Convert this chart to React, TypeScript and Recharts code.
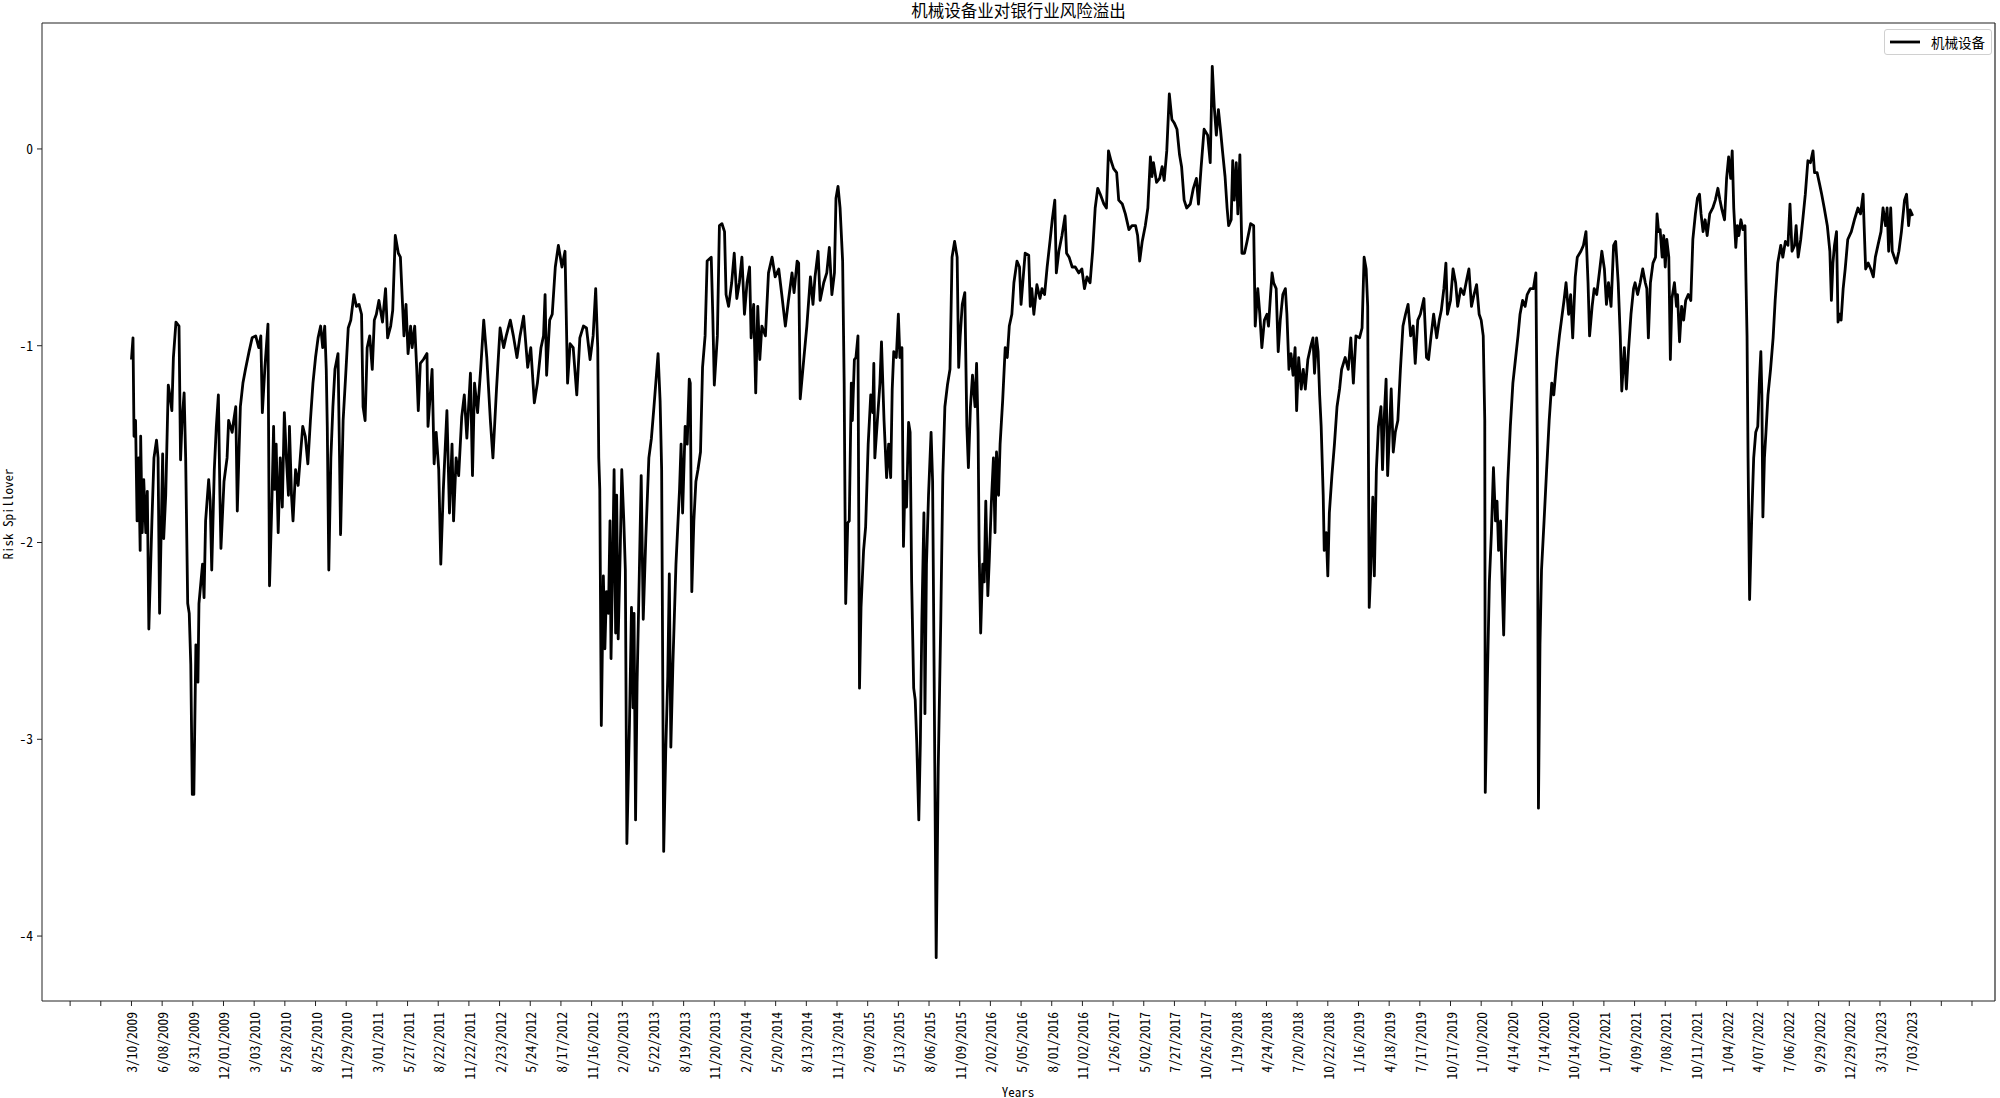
import React from 'react'
import { LineChart, Line, XAxis, YAxis, ReferenceLine } from 'recharts'

// one label every 60 trading days, starting at day 0
const tickDates = [
  '3/10/2009', '6/08/2009', '8/31/2009', '12/01/2009', '3/03/2010', '5/28/2010', '8/25/2010', '11/29/2010',
  '3/01/2011', '5/27/2011', '8/22/2011', '11/22/2011', '2/23/2012', '5/24/2012', '8/17/2012', '11/16/2012',
  '2/20/2013', '5/22/2013', '8/19/2013', '11/20/2013', '2/20/2014', '5/20/2014', '8/13/2014', '11/13/2014',
  '2/09/2015', '5/13/2015', '8/06/2015', '11/09/2015', '2/02/2016', '5/05/2016', '8/01/2016', '11/02/2016',
  '1/26/2017', '5/02/2017', '7/27/2017', '10/26/2017', '1/19/2018', '4/24/2018', '7/20/2018', '10/22/2018',
  '1/16/2019', '4/18/2019', '7/17/2019', '10/17/2019', '1/10/2020', '4/14/2020', '7/14/2020', '10/14/2020',
  '1/07/2021', '4/09/2021', '7/08/2021', '10/11/2021', '1/04/2022', '4/07/2022', '7/06/2022', '9/29/2022',
  '12/29/2022', '3/31/2023', '7/03/2023',
]
const tickStep = 60
const yTicks = [0, -1, -2, -3, -4]
const xDomain = [-175, 3645]
const yDomain = [-4.33, 0.64]

// [trading day, risk spillover]
const spill: [number, number][] = [
  [0, -1.07], [3, -0.96], [5, -1.46], [8, -1.38], [11, -1.89], [14, -1.57], [17, -2.04], [18, -1.46], [21, -1.95], [24, -1.68],
  [28, -1.95], [31, -1.74], [34, -2.44], [40, -1.89], [44, -1.57], [49, -1.48], [52, -1.57], [55, -2.36], [61, -1.55], [63, -1.98],
  [67, -1.76], [72, -1.2], [75, -1.25], [79, -1.33], [82, -1.06], [87, -0.88], [93, -0.9], [96, -1.58], [99, -1.38], [103, -1.24],
  [106, -1.57], [110, -2.31], [113, -2.36], [116, -2.62], [119, -3.28], [122, -3.28], [126, -2.52], [130, -2.71], [132, -2.31], [139, -2.11],
  [142, -2.28], [145, -1.89], [151, -1.68], [154, -1.79], [157, -2.14], [162, -1.63], [166, -1.41], [170, -1.25], [173, -1.76], [175, -2.03],
  [181, -1.69], [187, -1.57], [190, -1.38], [197, -1.44], [200, -1.38], [204, -1.31], [207, -1.84], [210, -1.57], [213, -1.31], [218, -1.19],
  [223, -1.12], [230, -1.03], [236, -0.96], [243, -0.95], [249, -1.01], [253, -0.95], [256, -1.34], [261, -1.11], [267, -0.89], [270, -2.22],
  [275, -1.76], [278, -1.41], [280, -1.73], [283, -1.5], [287, -1.95], [291, -1.57], [295, -1.82], [299, -1.34], [303, -1.57], [307, -1.76],
  [309, -1.41], [313, -1.76], [316, -1.89], [321, -1.63], [326, -1.71], [331, -1.54], [335, -1.41], [340, -1.46], [345, -1.6], [350, -1.38],
  [355, -1.19], [360, -1.06], [365, -0.96], [370, -0.9], [374, -1.01], [378, -0.9], [381, -1.12], [383, -1.41], [386, -2.14], [390, -1.57],
  [394, -1.31], [398, -1.12], [404, -1.04], [407, -1.57], [409, -1.96], [414, -1.38], [419, -1.15], [424, -0.91], [429, -0.87], [435, -0.74],
  [440, -0.8], [445, -0.79], [450, -0.84], [453, -1.31], [457, -1.38], [461, -1.01], [466, -0.95], [471, -1.12], [475, -0.87], [479, -0.84],
  [484, -0.77], [491, -0.88], [497, -0.71], [501, -0.96], [507, -0.9], [511, -0.82], [516, -0.44], [522, -0.53], [526, -0.55], [533, -0.95],
  [537, -0.79], [541, -1.04], [546, -0.9], [549, -1.01], [554, -0.9], [558, -1.12], [561, -1.33], [565, -1.09],
  [571, -1.07], [578, -1.04], [580, -1.41], [588, -1.12], [592, -1.6], [596, -1.44], [601, -1.63], [605, -2.11], [610, -1.73], [617, -1.33],
  [622, -1.85], [627, -1.5], [630, -1.89], [635, -1.57], [640, -1.66], [646, -1.36], [651, -1.25], [656, -1.47], [663, -1.14], [667, -1.66],
  [671, -1.19], [677, -1.34], [683, -1.12], [689, -0.87], [695, -1.06], [702, -1.38], [707, -1.57], [714, -1.22], [721, -0.91], [728, -1.01],
  [733, -0.95], [741, -0.87], [747, -0.95], [754, -1.06], [760, -0.95], [767, -0.85], [775, -1.11], [781, -1.01], [788, -1.29], [794, -1.19],
  [801, -1.01], [806, -0.95], [809, -0.74], [812, -1.15], [818, -0.87], [823, -0.84], [829, -0.6], [835, -0.49], [842, -0.6], [848, -0.52],
  [853, -1.19], [858, -0.99], [864, -1.01], [871, -1.25], [877, -0.96], [884, -0.9], [890, -0.91], [897, -1.07], [903, -0.95], [908, -0.71],
  [912, -1.01], [914, -1.57], [916, -1.73], [919, -2.93], [923, -2.17], [926, -2.54], [929, -2.25], [933, -2.36], [936, -1.89], [938, -2.59],
  [941, -2.14], [944, -1.63], [947, -2.46], [949, -1.76], [952, -2.49], [956, -2.04], [959, -1.63], [963, -1.89], [966, -2.14], [969, -3.53],
  [974, -2.93], [978, -2.33], [981, -2.84], [983, -2.36], [986, -3.41], [989, -2.71], [993, -2.2], [997, -1.66], [1001, -2.39], [1006, -1.98],
  [1012, -1.57], [1017, -1.47], [1022, -1.31], [1030, -1.04], [1034, -1.28], [1037, -1.63], [1041, -3.57], [1045, -3.06], [1049, -2.68], [1052, -2.16],
  [1055, -3.04], [1059, -2.62], [1065, -2.11], [1072, -1.73], [1075, -1.5], [1078, -1.85], [1083, -1.41], [1087, -1.5], [1091, -1.17], [1093, -1.19],
  [1096, -2.25], [1100, -1.89], [1104, -1.69], [1108, -1.63], [1113, -1.54], [1117, -1.11], [1122, -0.95], [1126, -0.57], [1134, -0.55], [1137, -0.84],
  [1140, -1.2], [1146, -0.95], [1150, -0.39],
  [1155, -0.38], [1160, -0.42], [1163, -0.74], [1168, -0.8], [1174, -0.68], [1179, -0.53], [1184, -0.76], [1189, -0.68], [1194, -0.55], [1199, -0.84],
  [1204, -0.68], [1209, -0.6], [1212, -0.96], [1217, -0.79], [1221, -1.24], [1225, -0.8], [1229, -1.07], [1233, -0.9], [1240, -0.95], [1246, -0.63],
  [1253, -0.55], [1259, -0.65], [1266, -0.61], [1272, -0.74], [1279, -0.9], [1285, -0.77], [1292, -0.63], [1296, -0.73], [1302, -0.57], [1305, -0.58],
  [1308, -1.27], [1315, -1.07], [1321, -0.9], [1328, -0.65], [1333, -0.79], [1337, -0.65], [1343, -0.52], [1347, -0.77], [1354, -0.68], [1360, -0.63],
  [1365, -0.5], [1370, -0.74], [1375, -0.63], [1378, -0.25], [1382, -0.19], [1386, -0.3], [1391, -0.57], [1394, -1.19], [1397, -2.31], [1401, -1.9],
  [1404, -1.89], [1408, -1.19], [1410, -1.38], [1414, -1.07], [1417, -1.06], [1421, -0.95], [1424, -2.74], [1427, -2.33], [1432, -2.04], [1436, -1.92],
  [1441, -1.5], [1446, -1.25], [1450, -1.34], [1452, -1.09], [1454, -1.57], [1459, -1.38], [1464, -1.19], [1467, -0.98], [1472, -1.38], [1477, -1.67],
  [1481, -1.5], [1485, -1.67], [1488, -1.22], [1491, -1.03], [1496, -1.06], [1500, -0.84], [1503, -1.06], [1507, -1.01], [1510, -2.02], [1513, -1.69],
  [1516, -1.82], [1520, -1.39], [1523, -1.44], [1526, -2.2], [1530, -2.74], [1533, -2.8], [1536, -3.02], [1540, -3.41], [1543, -3.02], [1546, -2.39],
  [1550, -1.85], [1552, -2.87], [1555, -2.11], [1559, -1.76], [1564, -1.44], [1567, -1.69], [1570, -2.68], [1574, -4.11], [1578, -3.15], [1583, -2.39],
  [1587, -1.66], [1591, -1.31], [1596, -1.2], [1601, -1.12], [1605, -0.55], [1610, -0.47], [1615, -0.55], [1618, -1.11], [1621, -0.95], [1625, -0.79],
  [1630, -0.73], [1634, -1.41], [1637, -1.62], [1641, -1.31], [1645, -1.15], [1650, -1.31], [1653, -1.09], [1656, -1.44], [1658, -2.04], [1661, -2.46],
  [1665, -2.11], [1668, -2.2], [1671, -1.79], [1675, -2.27], [1678, -2.08], [1682, -1.79], [1686, -1.57], [1689, -1.95], [1692, -1.54], [1696, -1.76],
  [1699, -1.5], [1704, -1.28], [1709, -1.01], [1713, -1.06], [1717, -0.9], [1722, -0.84], [1726, -0.68], [1732, -0.57], [1737, -0.6], [1740, -0.79],
  [1748, -0.53], [1755, -0.54], [1758, -0.8], [1761, -0.71], [1765, -0.84], [1771, -0.69], [1777, -0.76], [1781, -0.71], [1786, -0.74], [1791, -0.6],
  [1797, -0.46], [1801, -0.36], [1806, -0.26], [1809, -0.63], [1814, -0.52], [1820, -0.44], [1826, -0.34], [1829, -0.53], [1834, -0.55], [1840, -0.6],
  [1846, -0.6], [1853, -0.63], [1859, -0.61], [1864, -0.71], [1869, -0.65], [1875, -0.68], [1880, -0.52], [1885, -0.3], [1890, -0.2], [1895, -0.23],
  [1902, -0.28], [1907, -0.3], [1911, -0.01], [1916, -0.06], [1921, -0.1], [1927, -0.12], [1931, -0.26], [1938, -0.28], [1944, -0.33], [1951, -0.41],
  [1957, -0.39], [1964, -0.39], [1968, -0.44], [1972, -0.57], [1977, -0.47], [1983, -0.39], [1988, -0.3], [1993, -0.04], [1996, -0.14], [1999, -0.07],
  [2005, -0.17], [2011, -0.15], [2016, -0.09], [2020, -0.16], [2025, -0.01], [2030, 0.28], [2035, 0.15], [2040, 0.13], [2045, 0.1], [2050, -0.03],
  [2054, -0.09], [2059, -0.26], [2064, -0.3], [2071, -0.28], [2077, -0.2], [2083, -0.15], [2087, -0.28], [2092, -0.1], [2098, 0.1], [2105, 0.07],
  [2110, -0.07], [2114, 0.42], [2118, 0.21], [2122, 0.07], [2126, 0.2], [2130, 0.1], [2134, -0.01], [2139, -0.14], [2143, -0.3], [2146, -0.39],
  [2151, -0.36], [2154, -0.06], [2157, -0.26], [2161, -0.07], [2164, -0.33], [2168, -0.03], [2172, -0.53], [2177, -0.53], [2182, -0.47], [2189, -0.38],
  [2195, -0.39], [2198, -0.9], [2203, -0.71], [2207, -0.84], [2211, -1.01], [2216, -0.87], [2221, -0.84], [2224, -0.9], [2228, -0.74], [2231, -0.63],
  [2234, -0.68], [2239, -0.71], [2243, -1.03], [2247, -0.87], [2252, -0.74], [2257, -0.71], [2260, -0.84], [2264, -1.12], [2268, -1.04], [2272, -1.15],
  [2276, -1.01], [2279, -1.33], [2283, -1.06], [2288, -1.22], [2292, -1.12], [2296, -1.22], [2301, -1.07], [2306, -1.01], [2311, -0.96], [2314, -1.14],
  [2318, -0.96], [2321, -1.03], [2324, -1.25], [2327, -1.41],
  [2331, -1.76], [2333, -2.04], [2337, -1.95], [2340, -2.17], [2343, -1.85], [2348, -1.66], [2353, -1.5], [2358, -1.31], [2363, -1.22], [2367, -1.12],
  [2374, -1.06], [2380, -1.12], [2385, -0.96], [2390, -1.19], [2395, -0.95], [2402, -0.96], [2407, -0.91], [2411, -0.55], [2415, -0.61], [2418, -0.8],
  [2421, -2.33], [2424, -2.14], [2428, -1.77], [2431, -2.17], [2435, -1.63], [2439, -1.41], [2444, -1.31], [2447, -1.63], [2450, -1.38], [2454, -1.17],
  [2457, -1.66], [2461, -1.41], [2464, -1.22], [2468, -1.54], [2472, -1.44], [2477, -1.38], [2482, -1.12], [2487, -0.9], [2492, -0.84], [2497, -0.79],
  [2502, -0.95], [2507, -0.9], [2511, -1.09], [2516, -0.87], [2521, -0.84], [2528, -0.76], [2533, -1.06], [2537, -1.07], [2542, -0.95], [2547, -0.84],
  [2553, -0.96], [2558, -0.87], [2562, -0.82], [2567, -0.71], [2571, -0.58], [2574, -0.84], [2580, -0.77], [2585, -0.61], [2590, -0.68], [2594, -0.8],
  [2600, -0.71], [2606, -0.74], [2612, -0.66], [2616, -0.61], [2621, -0.8], [2626, -0.74], [2631, -0.69], [2636, -0.84], [2640, -0.87], [2644, -0.95],
  [2647, -1.38], [2648, -3.27], [2651, -2.84], [2656, -2.2], [2660, -1.95], [2664, -1.62], [2668, -1.89], [2671, -1.79], [2674, -2.04], [2678, -1.89],
  [2681, -2.2], [2684, -2.47], [2687, -2.11], [2692, -1.69], [2697, -1.41], [2702, -1.19], [2707, -1.07], [2712, -0.95], [2716, -0.84], [2721, -0.77],
  [2726, -0.8], [2730, -0.74], [2736, -0.71], [2742, -0.71], [2747, -0.63], [2750, -1.57], [2752, -3.35], [2755, -2.52], [2758, -2.14], [2763, -1.89],
  [2768, -1.63], [2773, -1.38], [2778, -1.19], [2782, -1.25], [2788, -1.07], [2793, -0.95], [2797, -0.87], [2802, -0.77], [2806, -0.68], [2811, -0.84],
  [2815, -0.74], [2819, -0.96], [2824, -0.65], [2828, -0.55], [2835, -0.52], [2840, -0.49], [2845, -0.42], [2849, -0.68], [2852, -0.95], [2857, -0.8],
  [2861, -0.71], [2866, -0.74], [2872, -0.61], [2876, -0.52], [2881, -0.61], [2885, -0.79], [2889, -0.68], [2894, -0.8], [2899, -0.49], [2903, -0.47],
  [2908, -0.68], [2912, -0.95],
  [2915, -1.23], [2920, -1.01], [2924, -1.22], [2928, -1.03], [2933, -0.84], [2938, -0.71], [2941, -0.68], [2946, -0.74], [2951, -0.68], [2956, -0.61],
  [2961, -0.68], [2964, -0.71], [2967, -0.96], [2971, -0.68], [2976, -0.58], [2981, -0.55], [2984, -0.33], [2987, -0.42], [2990, -0.41], [2994, -0.55],
  [2997, -0.44], [3000, -0.6], [3003, -0.46], [3007, -0.55], [3010, -1.07], [3013, -0.76], [3018, -0.68], [3022, -0.8], [3024, -0.74], [3028, -0.98],
  [3032, -0.8], [3036, -0.87], [3040, -0.77], [3045, -0.74], [3050, -0.77], [3054, -0.46], [3059, -0.33], [3063, -0.25], [3067, -0.23], [3070, -0.33],
  [3074, -0.42], [3078, -0.36], [3082, -0.44], [3087, -0.33], [3093, -0.3], [3098, -0.26], [3103, -0.2], [3107, -0.26], [3111, -0.31], [3116, -0.36],
  [3120, -0.15], [3124, -0.04], [3128, -0.15], [3131, -0.01], [3134, -0.3], [3138, -0.5], [3141, -0.39], [3144, -0.44], [3148, -0.36], [3152, -0.41],
  [3156, -0.39], [3158, -0.68], [3160, -0.95], [3162, -1.57], [3165, -2.29], [3169, -1.89], [3173, -1.57], [3177, -1.44], [3181, -1.41], [3184, -1.19],
  [3187, -1.03], [3189, -1.25], [3191, -1.87], [3194, -1.57], [3197, -1.44], [3201, -1.25], [3206, -1.12], [3211, -0.96], [3215, -0.77], [3220, -0.58],
  [3226, -0.49], [3230, -0.55], [3235, -0.47], [3240, -0.49], [3244, -0.28], [3248, -0.52], [3253, -0.49], [3256, -0.39], [3260, -0.55], [3265, -0.46],
  [3269, -0.36], [3274, -0.23], [3279, -0.06], [3284, -0.07], [3289, -0.01], [3292, -0.12], [3297, -0.12], [3302, -0.18], [3306, -0.23], [3311, -0.3],
  [3317, -0.39], [3322, -0.52], [3325, -0.77], [3328, -0.58], [3331, -0.49], [3335, -0.42], [3338, -0.88], [3341, -0.84], [3344, -0.87], [3348, -0.71],
  [3352, -0.61], [3357, -0.46], [3364, -0.42], [3370, -0.36], [3377, -0.3], [3382, -0.33], [3387, -0.23], [3389, -0.39], [3392, -0.61], [3397, -0.58],
  [3402, -0.61], [3407, -0.65], [3411, -0.55], [3416, -0.49], [3422, -0.42], [3426, -0.3], [3431, -0.39], [3434, -0.3], [3437, -0.52], [3441, -0.3],
  [3444, -0.52], [3448, -0.55], [3452, -0.58], [3457, -0.52], [3462, -0.42], [3468, -0.26], [3472, -0.23], [3476, -0.39], [3479, -0.31], [3484, -0.34],
]

const data = spill.map(([day, value]) => ({ day, value }))
const xTicks = [-2, -1, ...tickDates.map((_, i) => i), tickDates.length, tickDates.length + 1].map(i => i * tickStep)

const MONO = "'Noto Sans Mono CJK SC', 'Noto Sans CJK SC', 'DejaVu Sans Mono', monospace"
const CJK = "'Noto Sans CJK SC', sans-serif"

function DateTick(props: any) {
  const { x, y, payload } = props
  const label = tickDates[payload.value / tickStep] ?? ''
  if (!label) return <g />
  return (
    <text transform={`translate(${x},${y + 4}) rotate(-90)`} textAnchor="end" dominantBaseline="central"
      fontSize={13.5} fontFamily={MONO} fill="#000">{label}</text>
  )
}

export default function App() {
  return (
    <div style={{ position: 'absolute', left: 0, top: 0, width: 2000, height: 1098, background: '#fff' }}>
      <LineChart width={2000} height={1098} data={data} margin={{ top: 23, right: 5, bottom: 0, left: 0 }}>
        <XAxis dataKey="day" type="number" domain={xDomain} allowDataOverflow ticks={xTicks} interval={0}
          tick={<DateTick />} tickSize={5} height={97} stroke="#222" />
        <YAxis type="number" domain={yDomain} allowDataOverflow ticks={yTicks} interval={0} width={42} tickSize={5} tickMargin={4}
          tick={{ fontSize: 13.5, fontFamily: MONO, fill: '#000' }} stroke="#222" />
        {/* top and right spines */}
        <ReferenceLine y={yDomain[1]} stroke="#222" strokeWidth={1.2} ifOverflow="extendDomain" />
        <ReferenceLine x={xDomain[1]} stroke="#222" strokeWidth={1.2} ifOverflow="extendDomain" />
        <Line type="linear" dataKey="value" stroke="#000" strokeWidth={2.8} strokeLinejoin="round" dot={false} isAnimationActive={false} />
      </LineChart>
      <div style={{ position: 'absolute', left: 42, top: 0, width: 1953, textAlign: 'center', fontSize: 16.5, lineHeight: '20px', fontFamily: CJK, color: '#000' }}>
        机械设备业对银行业风险溢出
      </div>
      <div style={{ position: 'absolute', left: 1884, top: 29, width: 108, height: 26, boxSizing: 'border-box', border: '1px solid #d0d0d0', borderRadius: 3, background: 'rgba(255,255,255,0.8)', display: 'flex', alignItems: 'center' }}>
        <svg width={40} height={10} style={{ marginLeft: 1 }}>
          <line x1={4} x2={34} y1={5} y2={5} stroke="#000" strokeWidth={2.8} />
        </svg>
        <span style={{ fontSize: 13.5, fontFamily: CJK, color: '#000', marginLeft: 5 }}>机械设备</span>
      </div>
      <div style={{ position: 'absolute', left: 7, top: 514, transform: 'translate(-50%,-50%) rotate(-90deg)', fontSize: 13, fontFamily: MONO, whiteSpace: 'nowrap', color: '#000' }}>
        Risk Spillover
      </div>
      <div style={{ position: 'absolute', left: 1018, top: 1091, transform: 'translate(-50%,-50%)', fontSize: 13, fontFamily: MONO, whiteSpace: 'nowrap', color: '#000' }}>
        Years
      </div>
    </div>
  )
}
